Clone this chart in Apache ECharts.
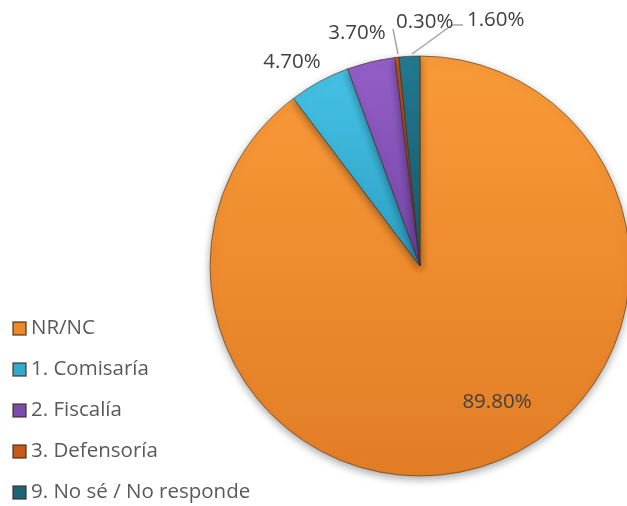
<!DOCTYPE html>
<html>
<head>
<meta charset="utf-8">
<script src="https://cdn.jsdelivr.net/npm/echarts@6/dist/echarts.min.js"></script>
<style>
  html, body { margin: 0; padding: 0; background: #fff; }
  #chart { width: 627px; height: 506px; }
</style>
</head>
<body>
<div id="chart"></div>
<script>
const categories = ['NR/NC', '1. Comisaría', '2. Fiscalía', '3. Defensoría', '9. No sé / No responde']
const values = [89.8, 4.7, 3.7, 0.3, 1.6]
const labels = ['89.80%', '4.70%', '3.70%', '0.30%', '1.60%']

// top / bottom colours of each slice, legend swatch colour
const sliceTop = ['#f99a38', '#45c2e6', '#9460c8', '#d4601e', '#237a92']
const sliceBottom = ['#e27d25', '#2c9fc2', '#7544a6', '#b84e14', '#165a6d']
const swatch = ['#e98a2b', '#33a9cc', '#7b4ca9', '#c75a18', '#1c6478']

const cx = 420
const cy = 266

const chart = echarts.init(document.getElementById('chart'))

const data = categories.map((name, i) => ({
  name,
  value: values[i],
  itemStyle: {
    color: {
      type: 'linear', x: 0, y: 0, x2: 0, y2: 1,
      colorStops: [
        { offset: 0, color: sliceTop[i] },
        { offset: 1, color: sliceBottom[i] },
      ],
    },
  },
  label: i === 0
    ? { position: 'inside' }
    : { position: 'outside' },
  labelLine: { show: i >= 3 },
}))

// label placement, offsets from the pie centre (like Excel's best fit)
function placeLabel(params) {
  const i = params.dataIndex
  if (i === 0)
    return { x: cx + 77, y: cy + 136, align: 'center', verticalAlign: 'middle' }
  if (i === 1)
    return { x: cx - 128, y: cy - 204, align: 'center', verticalAlign: 'middle' }
  if (i === 2)
    return { x: cx - 63, y: cy - 233, align: 'center', verticalAlign: 'middle' }
  if (i === 3) {
    return {
      x: cx - 24, y: cy - 244, align: 'left', verticalAlign: 'middle',
      labelLinePoints: [[cx - 22, cy - 212], [cx - 27, cy - 237], [cx - 27, cy - 237]],
    }
  }
  return {
    x: cx + 47, y: cy - 246, align: 'left', verticalAlign: 'middle',
    labelLinePoints: [[cx - 8, cy - 212], [cx + 32, cy - 241], [cx + 43, cy - 241]],
  }
}

chart.setOption({
  animation: false,
  textStyle: { fontFamily: 'Open Sans' },
  legend: {
    orient: 'vertical',
    left: 7,
    top: 313,
    height: 200,
    itemWidth: 13,
    itemHeight: 13,
    itemGap: 20,
    icon: 'rect',
    data: categories.map((name, i) => ({
      name,
      itemStyle: { color: swatch[i] },
    })),
    textStyle: { fontSize: 20.5, color: '#595959', fontFamily: 'Open Sans' },
  },
  series: [{
    type: 'pie',
    center: [cx, cy],
    radius: 210,
    startAngle: 90,
    clockwise: true,
    data,
    itemStyle: {
      borderColor: 'rgba(60,40,20,0.55)',
      borderWidth: 1,
      shadowBlur: 8,
      shadowOffsetY: 3,
      shadowColor: 'rgba(0,0,0,0.35)',
    },
    label: {
      formatter: p => labels[p.dataIndex],
      fontSize: 20.5,
      color: '#404040',
      fontFamily: 'Open Sans',
    },
    labelLine: {
      length: 14,
      length2: 12,
      lineStyle: { color: '#a6a6a6', width: 1.5 },
    },
    labelLayout: placeLabel,
    emphasis: { disabled: true },
  }],
})
</script>
</body>
</html>
